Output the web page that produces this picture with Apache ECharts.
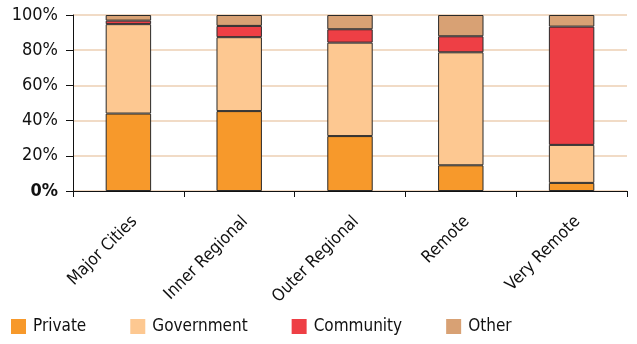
<!DOCTYPE html>
<html>
<head>
<meta charset="utf-8">
<script src="https://cdn.jsdelivr.net/npm/echarts@6/dist/echarts.min.js"></script>
<style>
  html, body { margin: 0; padding: 0; background: #fff; }
  #chart { width: 637px; height: 344px; }
</style>
</head>
<body>
<div id="chart"></div>
<script>
// categories and shares (%)
var regions = ['Major Cities', 'Inner Regional', 'Outer Regional', 'Remote', 'Very Remote']
var privateShare = [44.0, 45.4, 31.2, 14.6, 4.6]
var governmentShare = [50.8, 42.0, 53.1, 64.2, 21.6]
var communityShare = [2.0, 6.4, 7.6, 9.1, 67.2]
var otherShare = [3.2, 6.2, 8.1, 12.1, 6.6]

var font = '"DejaVu Sans Condensed", "Liberation Sans Narrow", sans-serif'

function barSeries (name, data, color) {
  return {
    name: name,
    type: 'bar',
    stack: 'total',
    barWidth: '41%',
    data: data,
    itemStyle: { color: color, borderColor: '#2a2a2a', borderWidth: 1 },
    emphasis: { disabled: true }
  }
}

var chart = echarts.init(document.getElementById('chart'))
chart.setOption({
  animation: false,
  textStyle: { fontFamily: font },
  grid: { left: 73, right: 10, top: 15, bottom: 153, containLabel: false },
  legend: {
    left: 6,
    bottom: 4,
    itemWidth: 15,
    itemHeight: 15,
    itemGap: 44,
    icon: 'rect',
    itemStyle: { borderWidth: 0 },
    textStyle: { fontSize: 17, color: '#111', fontFamily: font, padding: [0, 0, 0, 2] },
    data: ['Private', 'Government', 'Community', 'Other']
  },
  xAxis: {
    type: 'category',
    data: regions,
    axisLine: { lineStyle: { color: '#111', width: 1 } },
    axisTick: { show: true, length: 6, lineStyle: { color: '#111' } },
    axisLabel: { rotate: 45, fontSize: 17, color: '#111', margin: 22, verticalAlign: 'top', fontFamily: font }
  },
  yAxis: {
    type: 'value',
    min: 0,
    max: 100,
    interval: 20,
    axisLine: { show: true, lineStyle: { color: '#111', width: 1 } },
    axisTick: { show: true, length: 7, lineStyle: { color: '#111' } },
    axisLabel: {
      fontSize: 18,
      color: '#111',
      margin: 15,
      fontFamily: font,
      formatter: function (v) { return v === 0 ? '{b|0%}' : v + '%' },
      rich: { b: { fontSize: 18, fontWeight: 'bold', fontFamily: font, color: '#111' } }
    },
    splitLine: { show: true, lineStyle: { color: '#eccfb3', width: 1.5 } }
  },
  series: [
    barSeries('Private', privateShare, '#f7992b'),
    barSeries('Government', governmentShare, '#fdc891'),
    barSeries('Community', communityShare, '#ee3f45'),
    barSeries('Other', otherShare, '#d8a174')
  ]
})
</script>
</body>
</html>
